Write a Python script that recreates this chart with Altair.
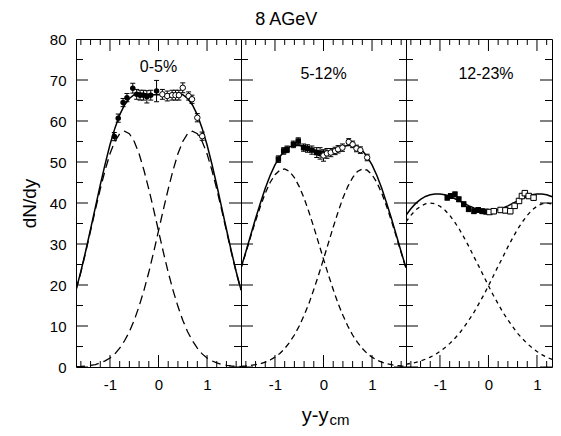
import altair as alt
import pandas as pd

FONT = "Liberation Sans"

# ---------------- data ----------------
PANEL_LABELS = ["0-5%", "5-12%", "12-23%"]
X_MAX = [1.7, 1.7, 1.31]
X_MIN = -1.7
Y_MIN, Y_MAX = 0, 80

X_GRID = [-1.7, -1.6, -1.5, -1.4, -1.3, -1.2, -1.1, -1.0, -0.9, -0.8, -0.7, -0.6,
          -0.5, -0.4, -0.3, -0.2, -0.1, 0.0, 0.1, 0.2, 0.3, 0.4, 0.5, 0.6, 0.7,
          0.8, 0.9, 1.0, 1.1, 1.2, 1.3, 1.4, 1.5, 1.6, 1.7]
X_GRID3 = [-1.7, -1.6, -1.5, -1.4, -1.3, -1.2, -1.1, -1.0, -0.9, -0.8, -0.7, -0.6,
           -0.5, -0.4, -0.3, -0.2, -0.1, 0.0, 0.1, 0.2, 0.3, 0.4, 0.5, 0.6, 0.7,
           0.8, 0.9, 1.0, 1.1, 1.2, 1.3, 1.4, 1.5]

# panel 1 (0-5%)
P1_SOLID = [18.8, 23.3, 28.3, 33.6, 39.0, 44.4, 49.5, 54.2, 58.2, 61.5, 63.9, 65.5,
            66.4, 66.8, 66.7, 66.5, 66.4, 66.4, 66.4, 66.5, 66.7, 66.8, 66.4, 65.5,
            63.9, 61.5, 58.2, 54.2, 49.5, 44.4, 39.0, 33.6, 28.3, 23.3, 18.8]
P1_DASH_L = [18.7, 23.1, 28.0, 33.2, 38.4, 43.4, 48.0, 52.0, 55.0, 56.9, 57.5, 56.9,
             55.0, 52.0, 48.0, 43.4, 38.4, 33.2, 28.0, 23.1, 18.7, 14.8, 11.4, 8.6,
             6.4, 4.6, 3.2, 2.2, 1.5, 1.0, 0.6, 0.4, 0.25, 0.15, 0.1]
P1_DASH_R = [0.1, 0.15, 0.25, 0.4, 0.6, 1.0, 1.5, 2.2, 3.2, 4.6, 6.4, 8.6, 11.4, 14.8,
             18.7, 23.1, 28.0, 33.2, 38.4, 43.4, 48.0, 52.0, 55.0, 56.9, 57.5, 56.9,
             55.0, 52.0, 48.0, 43.4, 38.4, 33.2, 28.0, 23.1, 18.7]
P1_FX = [-0.91, -0.83, -0.73, -0.65, -0.53, -0.45, -0.38, -0.31, -0.24, -0.16, -0.04]
P1_FY = [56.2, 60.7, 64.5, 65.7, 68.0, 66.5, 66.3, 66.3, 65.9, 66.3, 67.3]
P1_FE = [1.0, 1.0, 1.0, 1.0, 1.2, 1.2, 1.2, 1.2, 1.5, 1.2, 2.6]
P1_OX = [0.08, 0.18, 0.28, 0.35, 0.42, 0.50, 0.62, 0.69, 0.80, 0.90]
P1_OY = [66.5, 66.1, 66.3, 66.3, 66.3, 68.1, 66.1, 65.3, 60.8, 56.3]
P1_OE = [1.2, 1.2, 1.2, 1.2, 1.2, 1.2, 1.0, 1.0, 1.0, 1.0]

# panel 2 (5-12%)
P2_SOLID = [24.2, 28.1, 32.2, 36.2, 40.0, 43.6, 46.7, 49.3, 51.3, 52.8, 53.7, 54.0,
            54.0, 53.8, 53.3, 53.0, 52.7, 52.6, 52.7, 53.0, 53.3, 53.8, 54.0, 54.0,
            53.7, 52.8, 51.3, 49.3, 46.7, 43.6, 40.0, 36.2, 32.2, 28.1, 24.2]
P2_DASH_L = [24.0, 27.9, 31.8, 35.6, 39.2, 42.4, 45.0, 46.9, 48.0, 48.3, 47.7, 46.2,
             44.0, 41.2, 37.8, 34.1, 30.2, 26.3, 22.5, 18.9, 15.5, 12.6, 10.0, 7.8,
             6.0, 4.5, 3.3, 2.4, 1.7, 1.2, 0.8, 0.56, 0.37, 0.24, 0.15]
P2_DASH_R = [0.15, 0.24, 0.37, 0.56, 0.8, 1.2, 1.7, 2.4, 3.3, 4.5, 6.0, 7.8, 10.0,
             12.6, 15.5, 18.9, 22.5, 26.3, 30.2, 34.1, 37.8, 41.2, 44.0, 46.2, 47.7,
             48.3, 48.0, 46.9, 45.0, 42.4, 39.2, 35.6, 31.8, 27.9, 24.0]
P2_FX = [-0.93, -0.82, -0.75, -0.62, -0.52, -0.41, -0.33, -0.24, -0.14, -0.07]
P2_FY = [50.7, 52.7, 53.1, 54.3, 55.1, 53.5, 53.3, 52.9, 52.3, 52.1]
P2_FE = [0.8, 0.8, 0.8, 0.8, 0.8, 0.9, 0.9, 1.0, 1.2, 1.4]
P2_OX = [0.0, 0.07, 0.15, 0.24, 0.30, 0.39, 0.52, 0.60, 0.68, 0.76, 0.90]
P2_OY = [51.6, 52.1, 52.3, 52.7, 53.1, 53.5, 54.9, 54.3, 53.3, 52.9, 51.1]
P2_OE = [1.4, 1.2, 1.0, 0.9, 0.9, 0.9, 0.8, 0.8, 0.8, 0.8, 0.8]

# panel 3 (12-23%)
P3_SOLID = [37.0, 38.6, 39.9, 40.9, 41.6, 42.0, 42.2, 42.2, 42.0, 41.6, 41.1, 40.5,
            39.9, 39.3, 38.8, 38.4, 38.2, 38.1, 38.2, 38.4, 38.8, 39.3, 39.9, 40.5,
            41.1, 41.6, 42.0, 42.2, 42.2, 42.0, 41.6, 40.9, 39.9]
P3_DASH_L = [35.4, 37.0, 38.3, 39.2, 39.8, 40.0, 39.8, 39.2, 38.3, 37.0, 35.4, 33.6,
             31.5, 29.3, 26.9, 24.6, 22.2, 19.8, 17.5, 15.4, 13.3, 11.5, 9.8, 8.2,
             6.9, 5.7, 4.7, 3.8, 3.0, 2.4, 1.9, 1.5, 1.1]
P3_DASH_R = [0.66, 0.9, 1.1, 1.5, 1.9, 2.4, 3.0, 3.8, 4.7, 5.7, 6.9, 8.2, 9.8, 11.5,
             13.3, 15.4, 17.5, 19.8, 22.2, 24.6, 26.9, 29.3, 31.5, 33.6, 35.4, 37.0,
             38.3, 39.2, 39.8, 40.0, 39.8, 39.2, 38.3]
P3_FX = [-0.85, -0.78, -0.69, -0.61, -0.51, -0.41, -0.30, -0.21, -0.13, -0.05]
P3_FY = [41.3, 41.7, 42.1, 40.9, 39.7, 38.5, 38.0, 38.3, 38.0, 37.9]
P3_FE = [0.6, 0.6, 0.6, 0.6, 0.6, 0.6, 0.6, 0.6, 0.6, 0.6]
P3_OX = [0.02, 0.11, 0.25, 0.35, 0.45, 0.54, 0.63, 0.69, 0.75, 0.83, 0.93]
P3_OY = [37.8, 38.0, 38.3, 38.2, 38.0, 39.3, 40.5, 41.7, 42.4, 41.7, 41.3]
P3_OE = [0.6, 0.6, 0.6, 0.6, 0.6, 0.6, 0.6, 0.6, 0.6, 0.6, 0.6]

Y_MAJOR = [0, 10, 20, 30, 40, 50, 60, 70, 80]
Y_MINOR = [5, 15, 25, 35, 45, 55, 65, 75]
X_MAJOR = [-1, 0, 1]
X_MINOR = [-1.6, -1.4, -1.2, -0.8, -0.6, -0.4, -0.2, 0.2, 0.4, 0.6, 0.8, 1.2, 1.4, 1.6]

PANELS = [
    dict(x=X_GRID, solid=P1_SOLID, dl=P1_DASH_L, dr=P1_DASH_R,
         fx=P1_FX, fy=P1_FY, fe=P1_FE, ox=P1_OX, oy=P1_OY, oe=P1_OE,
         fshape="circle", oshape="circle", dash=[9, 5]),
    dict(x=X_GRID, solid=P2_SOLID, dl=P2_DASH_L, dr=P2_DASH_R,
         fx=P2_FX, fy=P2_FY, fe=P2_FE, ox=P2_OX, oy=P2_OY, oe=P2_OE,
         fshape="square", oshape="circle", dash=[6, 4]),
    dict(x=X_GRID3, solid=P3_SOLID, dl=P3_DASH_L, dr=P3_DASH_R,
         fx=P3_FX, fy=P3_FY, fe=P3_FE, ox=P3_OX, oy=P3_OY, oe=P3_OE,
         fshape="square", oshape="square", dash=[4, 4]),
]
WIDTHS = [165, 165, 146]
HEIGHT = 328
TITLE_DX = [0, 0, 7]


def make_panel(i):
    p = PANELS[i]
    W = WIDTHS[i]
    xmax = X_MAX[i]
    xs = alt.Scale(domain=[X_MIN, xmax], nice=False, zero=False)
    ys = alt.Scale(domain=[Y_MIN, Y_MAX], nice=False, zero=False)
    xmaj = [v for v in X_MAJOR if X_MIN <= v <= xmax]
    xmin = [v for v in X_MINOR if X_MIN <= v <= xmax]

    lab_kw = dict(orient="bottom", values=xmaj, ticks=False, domain=False, grid=False,
                  labelPadding=10, labelFontSize=15, labelColor="black",
                  labelExpr="toString(datum.value)", labelFlush=False,
                  titleFontWeight="normal", titleColor="black",
                  titleBaseline="alphabetic")
    if i == 1:
        x_axis = alt.Axis(title="y-y", titleFontSize=20, titleX=87, titleY=54,
                          titleAlign="right", **lab_kw)
    elif i == 2:
        # subscript of the x title, placed just after "y-y" of the middle panel
        x_axis = alt.Axis(title="cm", titleFontSize=15, titleX=-77, titleY=57,
                          titleAlign="left", **lab_kw)
    else:
        x_axis = alt.Axis(title=None, **lab_kw)

    if i == 0:
        y_axis = alt.Axis(orient="left", values=Y_MAJOR, ticks=False, domain=False,
                          grid=False, labelPadding=10, labelFontSize=15,
                          labelColor="black", labelFlush=False, title="dN/dy",
                          titleFontSize=19, titleFontWeight="normal",
                          titleColor="black", titlePadding=10)
    else:
        y_axis = None

    curves = pd.DataFrame({"x": p["x"], "solid": p["solid"], "dl": p["dl"], "dr": p["dr"]})
    pf = pd.DataFrame({"x": p["fx"], "y": p["fy"], "e": p["fe"]})
    po = pd.DataFrame({"x": p["ox"], "y": p["oy"], "e": p["oe"]})
    pts = pd.concat([pf, po], ignore_index=True)
    pts["lo"] = pts["y"] - pts["e"]
    pts["hi"] = pts["y"] + pts["e"]

    # tick tables: tick value + the frame edge (a scale-domain bound) it sits on
    yt_maj = pd.DataFrame({"v": Y_MAJOR + Y_MAJOR,
                           "edge": [X_MIN] * len(Y_MAJOR) + [xmax] * len(Y_MAJOR)})
    yt_min = pd.DataFrame({"v": Y_MINOR + Y_MINOR,
                           "edge": [X_MIN] * len(Y_MINOR) + [xmax] * len(Y_MINOR)})
    xt_maj = pd.DataFrame({"v": xmaj + xmaj,
                           "edge": [Y_MIN] * len(xmaj) + [Y_MAX] * len(xmaj)})
    xt_min = pd.DataFrame({"v": xmin + xmin,
                           "edge": [Y_MIN] * len(xmin) + [Y_MAX] * len(xmin)})

    # every layer carries the identical axis definition, so merging is trivial
    def X(field="x:Q"):
        return alt.X(field, scale=xs, axis=x_axis)

    def Y(field):
        return alt.Y(field, scale=ys, axis=y_axis)

    base = alt.Chart(curves)
    solid = base.mark_line(color="black", strokeWidth=1.5, clip=True).encode(
        x=X(), y=Y("solid:Q"))
    dl = base.mark_line(color="black", strokeWidth=1.3, strokeDash=p["dash"], clip=True).encode(
        x=X(), y=Y("dl:Q"))
    dr = base.mark_line(color="black", strokeWidth=1.3, strokeDash=p["dash"], clip=True).encode(
        x=X(), y=Y("dr:Q"))
    err = alt.Chart(pts).mark_rule(color="black", strokeWidth=1).encode(
        x=X(), y=Y("lo:Q"), y2="hi:Q")
    caps = alt.Chart(pts).transform_fold(["lo", "hi"], as_=["k", "v"]).mark_tick(
        orient="horizontal", size=5, thickness=1, color="black", opacity=1).encode(
        x=X(), y=Y("v:Q"))
    filled = alt.Chart(pf).mark_point(shape=p["fshape"], filled=True, color="black",
                                      size=30, opacity=1).encode(
        x=X(), y=Y("y:Q"))
    opened = alt.Chart(po).mark_point(shape=p["oshape"], filled=True, fill="white",
                                      stroke="black", strokeWidth=1, size=30,
                                      opacity=1).encode(
        x=X(), y=Y("y:Q"))

    # inward frame ticks: centred on the frame edge and clipped to the plot
    ytick_maj = alt.Chart(yt_maj).mark_tick(orient="horizontal", size=24, thickness=1,
                                            color="black", opacity=1, clip=True).encode(
        x=X("edge:Q"), y=Y("v:Q"))
    ytick_min = alt.Chart(yt_min).mark_tick(orient="horizontal", size=14, thickness=1,
                                            color="black", opacity=1, clip=True).encode(
        x=X("edge:Q"), y=Y("v:Q"))
    xtick_maj = alt.Chart(xt_maj).mark_tick(orient="vertical", size=24, thickness=1,
                                            color="black", opacity=1, clip=True).encode(
        x=X("v:Q"), y=Y("edge:Q"))
    xtick_min = alt.Chart(xt_min).mark_tick(orient="vertical", size=12, thickness=1,
                                            color="black", opacity=1, clip=True).encode(
        x=X("v:Q"), y=Y("edge:Q"))

    return alt.layer(solid, dl, dr, err, caps, filled, opened,
                     ytick_maj, ytick_min, xtick_maj, xtick_min).properties(
        width=W, height=HEIGHT,
        title=alt.TitleParams(PANEL_LABELS[i], fontSize=16, fontWeight="normal",
                              font=FONT, color="black", anchor="middle", offset=-43,
                              dx=TITLE_DX[i]))


chart = alt.hconcat(make_panel(0), make_panel(1), make_panel(2),
                    spacing=0, bounds="flush").properties(
    title=alt.TitleParams("8 AGeV", fontSize=18, fontWeight="normal", font=FONT,
                          color="black", anchor="middle", offset=3),
    padding={"left": 11, "top": 2, "right": 0, "bottom": 0},
).configure_view(stroke="black", strokeWidth=1).configure_axis(
    labelFont=FONT, titleFont=FONT).configure_title(font=FONT)

chart.save("out.html", embed_options={"renderer": "svg", "actions": False})
